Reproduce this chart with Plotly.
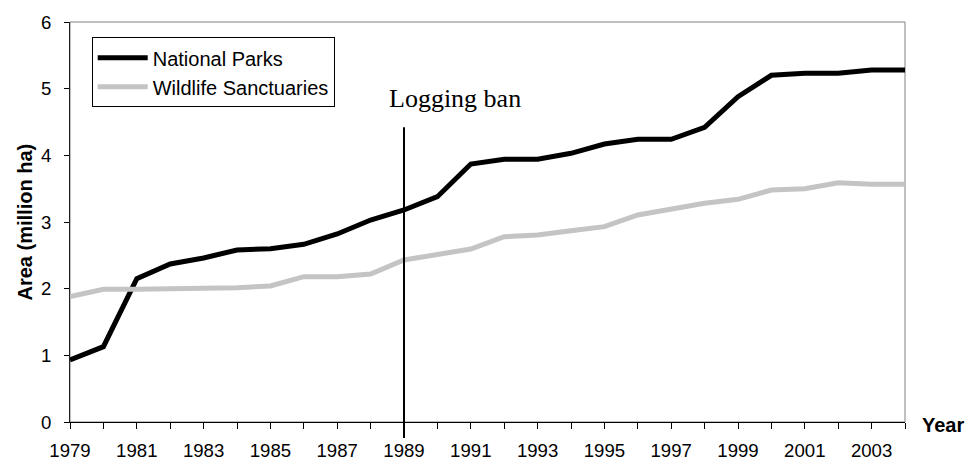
import plotly.graph_objects as go

years = list(range(1979, 2005))
national_parks = [0.93, 1.13, 2.15, 2.37, 2.46, 2.58, 2.60, 2.665, 2.82, 3.03, 3.18, 3.38, 3.87, 3.94, 3.94, 4.03, 4.17, 4.24, 4.24, 4.42, 4.88, 5.20, 5.23, 5.23, 5.28, 5.28]
wildlife_sanctuaries = [1.88, 1.99, 1.99, 2.0, 2.0, 2.015, 2.04, 2.18, 2.18, 2.22, 2.43, 2.52, 2.595, 2.78, 2.805, 2.87, 2.93, 3.105, 3.20, 3.28, 3.34, 3.48, 3.50, 3.59, 3.565, 3.565]
x_tick_years = list(range(1979, 2004, 2))
x_tick_labels = [str(y) for y in x_tick_years]
event_year = 1989
event_label = "Logging ban"

SANS = "Liberation Sans, Arial, sans-serif"
SERIF = "Liberation Serif, Times New Roman, serif"

fig = go.Figure()
fig.add_trace(go.Scatter(x=years, y=national_parks, mode="lines", name="National Parks",
                         line=dict(color="black", width=5)))
fig.add_trace(go.Scatter(x=years, y=wildlife_sanctuaries, mode="lines", name="Wildlife Sanctuaries",
                         line=dict(color="#c4c4c4", width=5)))

# plot-area border (gray) beneath axis lines
fig.add_shape(type="rect", xref="paper", yref="paper", x0=0, x1=1, y0=0, y1=1,
              line=dict(color="#808080", width=1), layer="below")

# event line
fig.add_shape(type="line", xref="x", yref="paper", x0=event_year, x1=event_year,
              y0=-0.04, y1=0.737, line=dict(color="black", width=2))
fig.add_annotation(x=event_year, y=4.85, xref="x", yref="y", text=event_label,
                   showarrow=False, xanchor="left", yanchor="middle", xshift=-17,
                   font=dict(family=SERIF, size=26, color="black"))

fig.add_annotation(x=-0.0533, y=0.5, xref="paper", yref="paper", text="<b>Area (million ha)</b>",
                   textangle=-90, showarrow=False, xanchor="center", yanchor="middle",
                   font=dict(family=SANS, size=20, color="black"))
fig.add_annotation(x=1.018, y=-0.0075, xref="paper", yref="paper", text="<b>Year</b>",
                   showarrow=False, xanchor="left", yanchor="middle",
                   font=dict(family=SANS, size=20, color="black"))

fig.update_layout(
    width=967, height=461,
    margin=dict(l=70, r=62, t=22, b=39, autoexpand=False),
    paper_bgcolor="white", plot_bgcolor="white",
    font=dict(family=SANS, size=18.6, color="black"),
    showlegend=True,
    legend=dict(x=0.026, y=0.962, xanchor="left", yanchor="top",
                bordercolor="black", borderwidth=1, bgcolor="white",
                font=dict(family=SANS, size=20, color="black"),
                itemwidth=50),
    xaxis=dict(range=[1979, 2004], tickvals=x_tick_years, ticktext=x_tick_labels,
               ticks="outside", ticklen=6, tickcolor="black", tickwidth=1,
               minor=dict(dtick=1, tick0=1979, ticks="outside", ticklen=6, tickcolor="black"),
               showline=True, linecolor="black", linewidth=1, showgrid=False, zeroline=False,
               ticklabelstandoff=6, automargin=False,
               tickfont=dict(family=SANS, size=18.6, color="black")),
    yaxis=dict(range=[0, 6], dtick=1, ticks="outside", ticklen=5, tickcolor="black",
               showline=True, linecolor="#222222", linewidth=1, showgrid=False, zeroline=False,
               ticklabelstandoff=9, automargin=False,
               tickfont=dict(family=SANS, size=18.6, color="black")),
)

fig.write_html("out.html", config={"displayModeBar": False},
               post_script="document.body.style.margin='0';")
